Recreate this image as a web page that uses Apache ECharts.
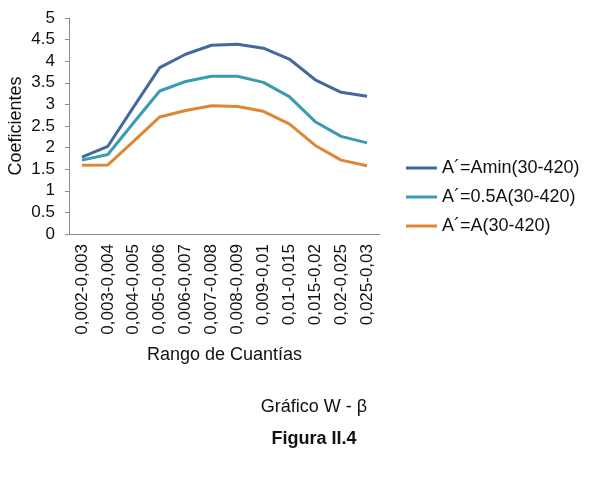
<!DOCTYPE html>
<html>
<head>
<meta charset="utf-8">
<script src="https://cdn.jsdelivr.net/npm/echarts@6/dist/echarts.min.js"></script>
<style>
  html, body { margin: 0; padding: 0; background: #fff; }
  #chart { width: 592px; height: 484px; }
</style>
</head>
<body>
<div id="chart"></div>
<script>
var categories = ['0,002-0,003', '0,003-0,004', '0,004-0,005', '0,005-0,006', '0,006-0,007', '0,007-0,008',
  '0,008-0,009', '0,009-0,01', '0,01-0,015', '0,015-0,02', '0,02-0,025', '0,025-0,03'];
var seriesNames = ['A´=Amin(30-420)', 'A´=0.5A(30-420)', 'A´=A(30-420)'];
var aMin = [1.78, 2.03, 2.95, 3.85, 4.16, 4.37, 4.39, 4.30, 4.05, 3.57, 3.28, 3.19];
var aHalf = [1.71, 1.84, 2.58, 3.31, 3.53, 3.65, 3.65, 3.51, 3.18, 2.60, 2.26, 2.11];
var aFull = [1.59, 1.60, 2.15, 2.71, 2.86, 2.97, 2.95, 2.84, 2.55, 2.05, 1.71, 1.58];
var yTicks = [0, 0.5, 1, 1.5, 2, 2.5, 3, 3.5, 4, 4.5, 5];

var colors = ['#44699F', '#3A9BB2', '#DF8636'];
var font = 'Liberation Sans, Arial, sans-serif';

var ec = echarts.init(document.getElementById('chart'));

function line(name, values, i) {
  return {
    name: name,
    type: 'line',
    data: values,
    symbol: 'none',
    lineStyle: { width: 3, color: colors[i] },
    itemStyle: { color: colors[i] }
  };
}

ec.setOption({
  animation: false,
  textStyle: { fontFamily: font },
  grid: { left: 69, right: 212, top: 18, bottom: 250, containLabel: false, outerBoundsMode: 'none' },
  legend: {
    orient: 'vertical',
    left: 401,
    top: 153,
    icon: 'rect',
    itemWidth: 31,
    itemHeight: 3,
    itemGap: 9,
    textStyle: { fontSize: 18, lineHeight: 20, color: '#111', fontFamily: font },
    data: seriesNames
  },
  xAxis: {
    type: 'category',
    data: categories,
    boundaryGap: true,
    name: 'Rango de Cuantías',
    nameLocation: 'middle',
    nameGap: 112,
    nameTextStyle: { fontSize: 18, color: '#111' },
    axisLine: { lineStyle: { color: '#8c8c8c' } },
    axisTick: { show: false },
    axisLabel: { rotate: 90, fontSize: 17, color: '#111', margin: 10, interval: 0 }
  },
  yAxis: {
    type: 'value',
    min: yTicks[0],
    max: yTicks[yTicks.length - 1],
    interval: 0.5,
    splitLine: { show: false },
    axisLine: { show: true, lineStyle: { color: '#8c8c8c' } },
    axisTick: { show: true, length: 4, lineStyle: { color: '#8c8c8c' } },
    axisLabel: { fontSize: 17, color: '#111', margin: 14 }
  },
  graphic: [{
    // y axis title, placed by hand
    type: 'text',
    x: 16, y: 126,
    rotation: Math.PI / 2,
    style: { text: 'Coeficientes', fill: '#111', textAlign: 'center', textVerticalAlign: 'middle', font: '18px ' + font }
  }, {
    type: 'text',
    x: 314, y: 398,
    style: { text: 'Gráfico W - β', fill: '#111', textAlign: 'center', font: '18px ' + font }
  }, {
    type: 'text',
    x: 314, y: 430,
    style: { text: 'Figura II.4', fill: '#111', textAlign: 'center', font: 'bold 18px ' + font }
  }],
  series: [
    line(seriesNames[0], aMin, 0),
    line(seriesNames[1], aHalf, 1),
    line(seriesNames[2], aFull, 2)
  ]
});
</script>
</body>
</html>
